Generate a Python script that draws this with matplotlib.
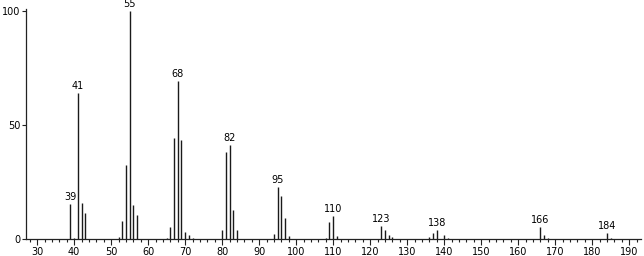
import matplotlib
matplotlib.use("Agg")
import matplotlib.pyplot as plt
from matplotlib.ticker import MultipleLocator

mz = [39, 40, 41, 42, 43, 52, 53, 54, 55, 56, 57, 65, 66, 67, 68, 69, 70, 71, 72,
      80, 81, 82, 83, 84, 94, 95, 96, 97, 98, 108, 109, 110, 111,
      123, 124, 125, 126, 136, 137, 138, 140, 141, 166, 167, 168, 184, 185]
intensity = [15.5, 0.5, 64.2, 15.6, 11.5, 1.0, 7.7, 32.5, 100.0, 14.9, 10.5, 0.4, 5.1, 44.2, 69.4, 43.3, 2.9, 1.8, 0.6,
             3.9, 38.2, 41.1, 12.6, 3.8, 2.3, 22.7, 18.9, 9.1, 1.3, 0.6, 7.5, 9.9, 1.3,
             5.8, 3.9, 1.9, 0.8, 1.0, 2.8, 3.9, 1.8, 0.5, 5.1, 1.8, 0.6, 2.5, 0.5]
labeled = [39, 41, 55, 68, 82, 95, 110, 123, 138, 166, 184]
xticks = list(range(30, 191, 10))
yticks = [0, 50, 100]

fig = plt.figure(figsize=(6.44, 2.56), dpi=100)
ax = fig.add_axes([26/644, 17/256, 615/644, 230/256])
ax.vlines(mz, 0, intensity, color="#1a1a1a", linewidth=1.0)
lookup = dict(zip(mz, intensity))
for m in labeled:
    ax.annotate(str(m), (m, lookup[m]), xytext=(0, 1.5), textcoords="offset points",
                ha="center", va="bottom", fontsize=7, color="black")

ax.set_xlim(27.0, 193.2)
ax.set_ylim(0, 101)
ax.set_xticks(xticks)
ax.xaxis.set_minor_locator(MultipleLocator(2))
ax.set_yticks(yticks)
ax.tick_params(axis="x", which="major", direction="out", length=4, width=0.8,
               labelsize=7, pad=2, color="#222")
ax.tick_params(axis="y", which="major", direction="out", length=3, width=0.8,
               labelsize=7, pad=1.2, color="#222")
ax.tick_params(axis="x", which="minor", direction="out", length=2.5, width=0.8, color="#222")
for s in ["top", "right"]:
    ax.spines[s].set_visible(False)
for s in ["left", "bottom"]:
    ax.spines[s].set_linewidth(0.9)
    ax.spines[s].set_color("#222")
fig.savefig("out.png", dpi=100)
